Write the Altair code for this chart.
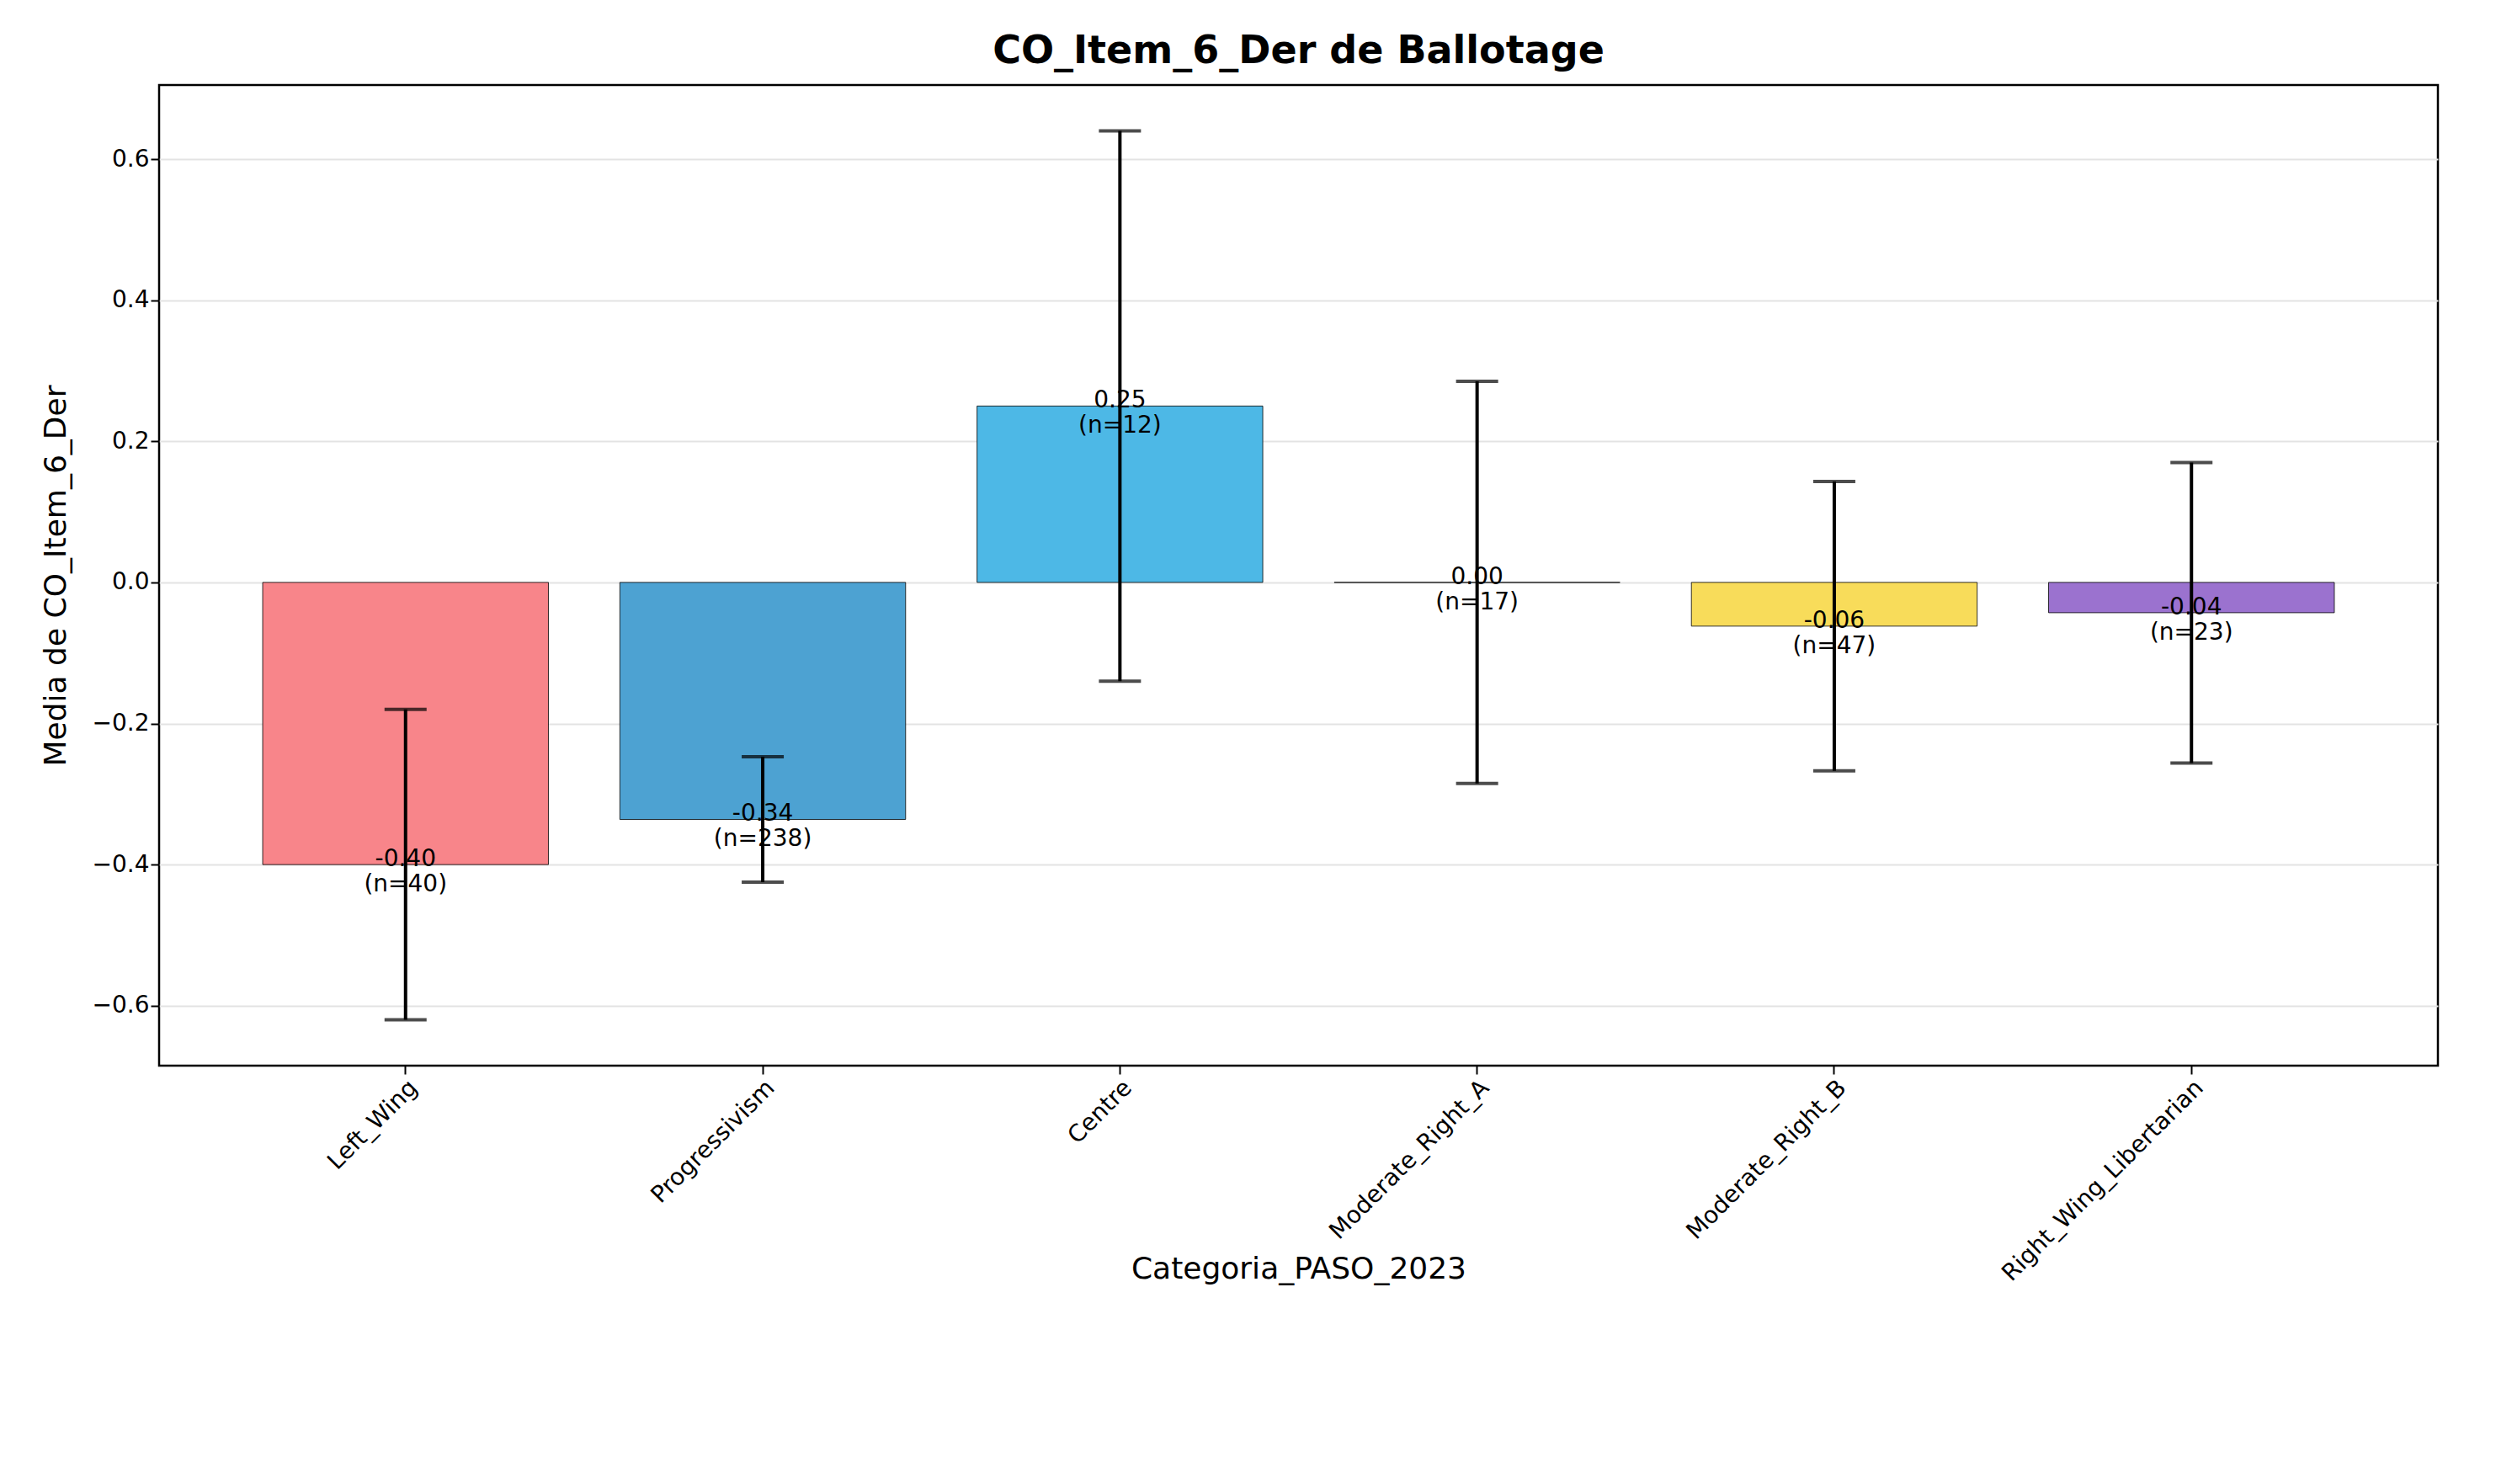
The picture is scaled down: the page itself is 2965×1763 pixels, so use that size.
import pandas as pd
import altair as alt

categories = ['Left_Wing', 'Progressivism', 'Centre', 'Moderate_Right_A',
              'Moderate_Right_B', 'Right_Wing_Libertarian']
means = [-0.40, -0.336, 0.25, 0.0, -0.062, -0.043]
errors = [0.22, 0.089, 0.39, 0.285, 0.205, 0.213]
counts = [40, 238, 12, 17, 47, 23]
colors = ['#f8858a', '#4da2d2', '#4db8e6', '#b8b8b8', '#f8dc5a', '#9b72cf']

df = pd.DataFrame({'cat': categories, 'mean': means, 'err': errors, 'n': counts})
df['lo'] = df['mean'] - df['err']
df['hi'] = df['mean'] + df['err']
df['label'] = [f"{m:.2f}\n(n={n})" for m, n in zip(means, counts)]

x = alt.X('cat:N', sort=categories, title='Categoria_PASO_2023',
          scale=alt.Scale(paddingInner=0.2, paddingOuter=0.29),
          axis=alt.Axis(labelAngle=-45, labelAlign='right', labelBaseline='top',
                        labelFontSize=28, labelLimit=600, titleFontSize=36,
                        titleFontWeight='normal', titlePadding=24, tickSize=10,
                        tickColor='black', tickWidth=2, labelColor='black',
                        titleColor='black', domain=False, grid=False))
yscale = alt.Scale(domain=[-0.685, 0.705], nice=False, zero=False)

base = alt.Chart(df)
bars = base.mark_bar(stroke='black', strokeWidth=0.8).encode(
    x=x,
    y=alt.Y('mean:Q', scale=yscale, title='Media de CO_Item_6_Der',
            axis=alt.Axis(values=[-0.6, -0.4, -0.2, 0.0, 0.2, 0.4, 0.6], format='.1f',
                          labelFontSize=28, titleFontSize=36, titleFontWeight='normal',
                          titlePadding=24, tickSize=10, tickColor='black', tickWidth=2,
                          labelColor='black', titleColor='black',
                          domain=False, gridColor='#e3e3e3', gridWidth=2)),
    color=alt.Color('cat:N', scale=alt.Scale(domain=categories, range=colors), legend=None),
)
rules = base.mark_rule(color='black', strokeWidth=4).encode(x=x, y='lo:Q', y2='hi:Q')
cap_lo = base.mark_tick(color='black', thickness=4, size=50).encode(x=x, y='lo:Q')
cap_hi = base.mark_tick(color='black', thickness=4, size=50).encode(x=x, y='hi:Q')
text = base.mark_text(fontSize=28, lineBreak='\n', baseline='bottom', dy=8,
                      color='black').encode(x=x, y='mean:Q', text='label:N')

chart = alt.layer(bars, rules, cap_lo, cap_hi, text).properties(
    width=2707, height=1165,
    padding={'left': 40, 'top': 30, 'right': 10, 'bottom': 10},
    title=alt.TitleParams('CO_Item_6_Der de Ballotage', fontSize=46, fontWeight='bold',
                          offset=16, color='black'),
).configure(font='DejaVu Sans').configure_view(stroke='black', strokeWidth=2.5,
                                               strokeOpacity=1)

chart.save("out.html", embed_options={"renderer": "svg", "actions": False})
